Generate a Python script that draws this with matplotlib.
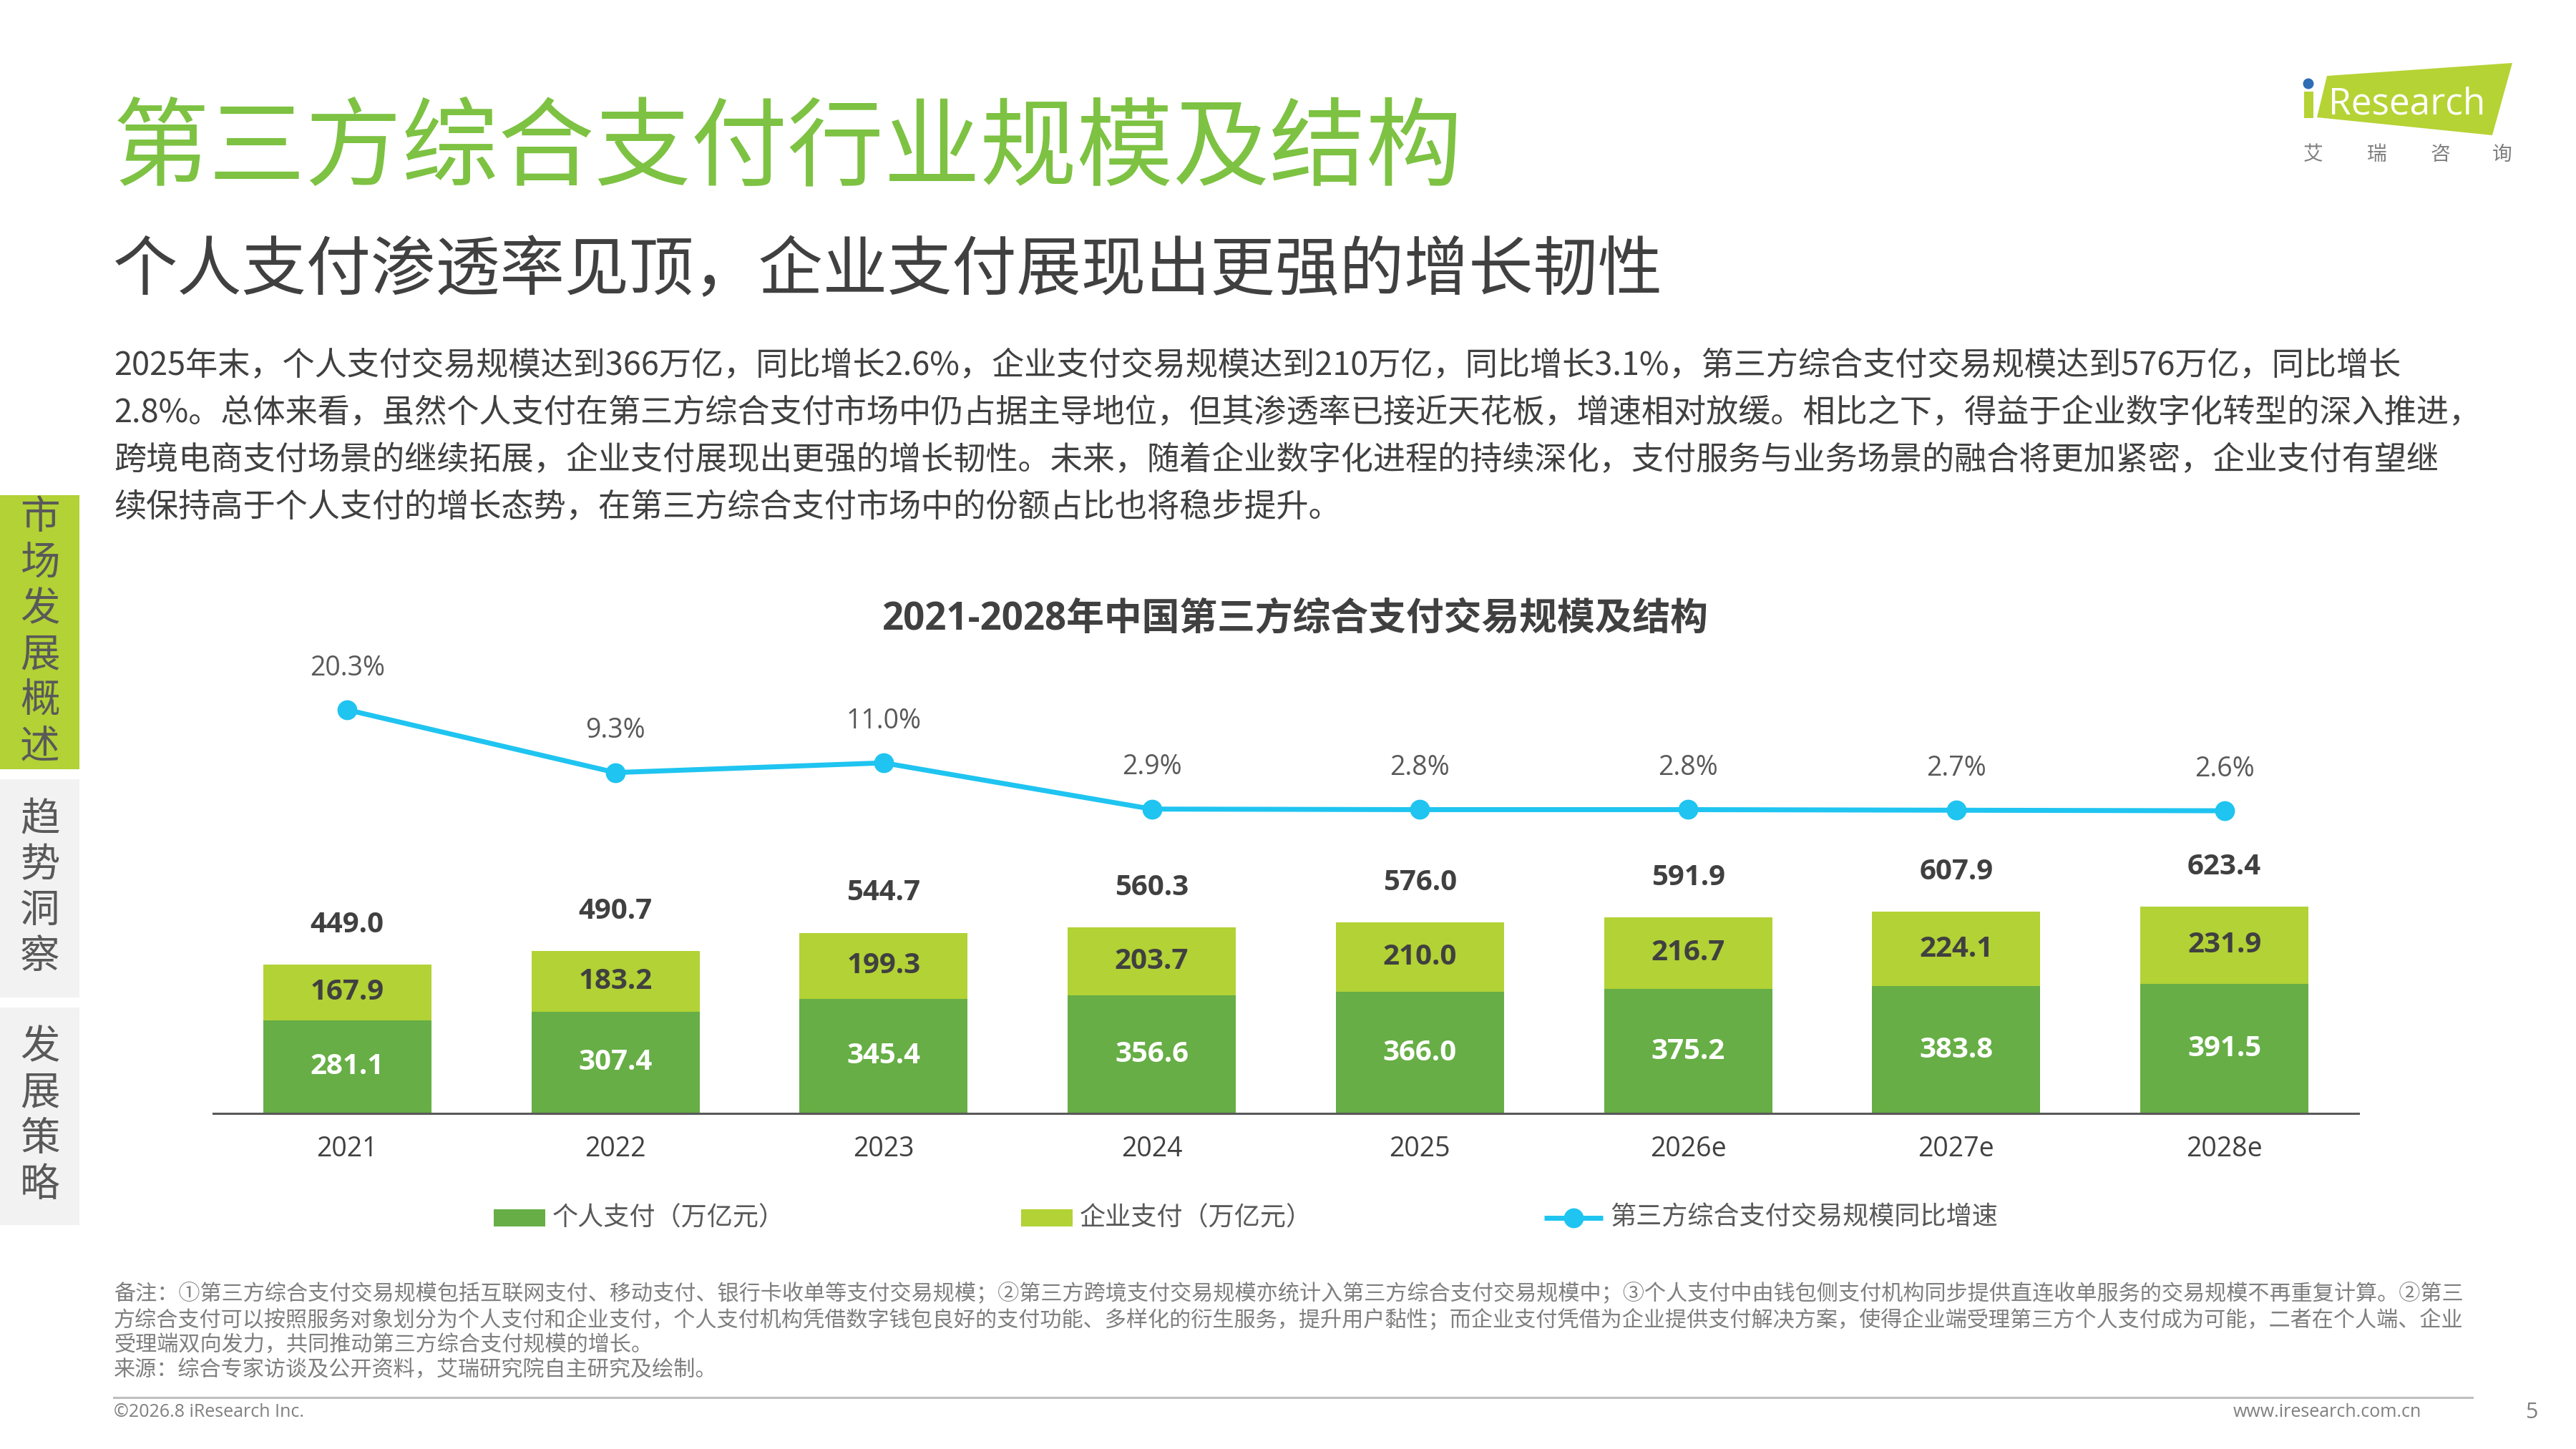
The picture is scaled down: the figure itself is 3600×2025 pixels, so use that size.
import matplotlib

matplotlib.use("Agg")
import matplotlib.pyplot as plt
from matplotlib.patches import Polygon, Rectangle, Circle
from matplotlib.lines import Line2D

plt.rcParams["font.family"] = ["Open Sans", "Noto Sans CJK SC", "DejaVu Sans"]
CJK = ["Noto Sans CJK SC", "DejaVu Sans"]

# ---- data ----
years = ["2021", "2022", "2023", "2024", "2025", "2026e", "2027e", "2028e"]
personal = [281.1, 307.4, 345.4, 356.6, 366.0, 375.2, 383.8, 391.5]
enterprise = [167.9, 183.2, 199.3, 203.7, 210.0, 216.7, 224.1, 231.9]
totals = [449.0, 490.7, 544.7, 560.3, 576.0, 591.9, 607.9, 623.4]
growth = [20.3, 9.3, 11.0, 2.9, 2.8, 2.8, 2.7, 2.6]

title = "第三方综合支付行业规模及结构"
subtitle = "个人支付渗透率见顶，企业支付展现出更强的增长韧性"
body_lines = [
    "2025年末，个人支付交易规模达到366万亿，同比增长2.6%，企业支付交易规模达到210万亿，同比增长3.1%，第三方综合支付交易规模达到576万亿，同比增长",
    "2.8%。总体来看，虽然个人支付在第三方综合支付市场中仍占据主导地位，但其渗透率已接近天花板，增速相对放缓。相比之下，得益于企业数字化转型的深入推进，",
    "跨境电商支付场景的继续拓展，企业支付展现出更强的增长韧性。未来，随着企业数字化进程的持续深化，支付服务与业务场景的融合将更加紧密，企业支付有望继",
    "续保持高于个人支付的增长态势，在第三方综合支付市场中的份额占比也将稳步提升。",
]
chart_title = "2021-2028年中国第三方综合支付交易规模及结构"
legend_labels = ["个人支付（万亿元）", "企业支付（万亿元）", "第三方综合支付交易规模同比增速"]
tabs = ["市场发展概述", "趋势洞察", "发展策略"]
notes = [
    "备注：①第三方综合支付交易规模包括互联网支付、移动支付、银行卡收单等支付交易规模；②第三方跨境支付交易规模亦统计入第三方综合支付交易规模中；③个人支付中由钱包侧支付机构同步提供直连收单服务的交易规模不再重复计算。②第三",
    "方综合支付可以按照服务对象划分为个人支付和企业支付，个人支付机构凭借数字钱包良好的支付功能、多样化的衍生服务，提升用户黏性；而企业支付凭借为企业提供支付解决方案，使得企业端受理第三方个人支付成为可能，二者在个人端、企业",
    "受理端双向发力，共同推动第三方综合支付规模的增长。",
    "来源：综合专家访谈及公开资料，艾瑞研究院自主研究及绘制。",
]

GREEN = "#66AE45"
LIME = "#B2D235"
CYAN = "#1FC4F0"
DARK = "#404040"
GRAY = "#595959"
W, H = 3600, 2025

fig = plt.figure(figsize=(36, 20.25), dpi=100)
fig.patch.set_facecolor("white")

# page layer in pixel coordinates
bg = fig.add_axes([0, 0, 1, 1])
bg.set_xlim(0, W)
bg.set_ylim(H, 0)
bg.axis("off")

bg.text(158, 210, title, fontsize=97, color="#7DC242", family=CJK, va="center", ha="left")
bg.text(158, 380, subtitle, fontsize=65, color=DARK, family=CJK, va="center", ha="left")
for i, line in enumerate(body_lines):
    bg.text(159, 511 + i * 66, line, fontsize=32.5, color=DARK, family=CJK, va="center", ha="left")

# side tabs
tab_spans = [(692, 1075), (1089, 1394), (1408, 1712)]
for k, (label, (y0, y1)) in enumerate(zip(tabs, tab_spans)):
    bg.add_patch(Rectangle((0, y0), 111, y1 - y0, facecolor=LIME if k == 0 else "#F2F2F2",
                           edgecolor="none"))
    n = len(label)
    step = 64
    start = (y0 + y1) / 2 - step * (n - 1) / 2
    for j, ch in enumerate(label):
        bg.text(56, start + j * step, ch, fontsize=40, color=GRAY, family=CJK,
                ha="center", va="center")

# logo
bg.add_patch(Polygon([(3252, 106), (3511, 88), (3483, 189), (3238, 164)], closed=True,
                     facecolor="#B5D334", edgecolor="none"))
bg.add_patch(Rectangle((3220, 128), 13, 37, facecolor="#B5D334", edgecolor="none"))
bg.add_patch(Circle((3226, 117), 7.5, facecolor="#2F6DB5", edgecolor="none"))
bg.text(3254, 160, "Research", fontsize=37, color="white", ha="left", va="baseline")
for cx, ch in zip([3233, 3322, 3410, 3497], "艾瑞咨询"):
    bg.text(cx, 216, ch, fontsize=20, color="#7F7F7F", family=CJK, ha="center", va="center")

# chart title
bg.text(1810, 866, chart_title, fontsize=38, fontweight="bold", color=DARK,
        family=["Open Sans", "Noto Sans CJK SC"], ha="center", va="center")

# legend
leg_y = 1702
bg.add_patch(Rectangle((690, leg_y - 12), 72, 24, facecolor=GREEN, edgecolor="none"))
bg.add_patch(Rectangle((1427, leg_y - 12), 72, 24, facecolor=LIME, edgecolor="none"))
bg.add_line(Line2D([2158, 2240], [leg_y, leg_y], color=CYAN, lw=5, solid_capstyle="butt"))
bg.add_line(Line2D([2199], [leg_y], color=CYAN, marker="o", markersize=19, lw=0))
for x, lab in zip([772, 1509, 2250], legend_labels):
    bg.text(x, leg_y, lab, fontsize=26, color=GRAY, family=CJK, ha="left", va="center")

# notes and footer
for i, line in enumerate(notes):
    bg.text(159, 1809 + i * 35.5, line, fontsize=21.7, color="#7F7F7F", family=CJK,
            ha="left", va="center")
bg.add_line(Line2D([159, 3455], [1953, 1953], color="#BFBFBF", lw=2.2))
bg.text(159, 1974, "©2026.8 iResearch Inc.", fontsize=18, color="#7F7F7F", ha="left", va="center")
bg.text(3384, 1974, "www.iresearch.com.cn", fontsize=18, color="#7F7F7F", ha="right", va="center")
bg.text(3538, 1974, "5", fontsize=22, color="#7F7F7F", ha="center", va="center")

# ---- chart ----
ax_left, ax_right, ax_top, ax_bot = 298, 3296, 940, 1556
ax = fig.add_axes([ax_left / W, 1 - ax_bot / H, (ax_right - ax_left) / W, (ax_bot - ax_top) / H])
ax.patch.set_alpha(0)
x = list(range(len(years)))
px_per_unit = 0.4635
ax.set_ylim(0, (ax_bot - ax_top) / px_per_unit)
ax.set_xlim(-0.5, 7.5)

ax.bar(x, personal, width=0.627, color=GREEN, zorder=2)
ax.bar(x, enterprise, bottom=personal, width=0.627, color=LIME, zorder=2)

for xi, p, e, t in zip(x, personal, enterprise, totals):
    ax.text(xi, p / 2, f"{p:.1f}", ha="center", va="center", fontsize=29,
            fontweight="bold", color="white")
    ax.text(xi, p + e / 2, f"{e:.1f}", ha="center", va="center", fontsize=29,
            fontweight="bold", color=DARK)
    ax.annotate(f"{t:.1f}", (xi, p + e), xytext=(0, 40), textcoords="offset points",
                ha="center", va="center", fontsize=29, fontweight="bold", color=DARK)

for s in ["top", "right", "left"]:
    ax.spines[s].set_visible(False)
ax.spines["bottom"].set_color(GRAY)
ax.spines["bottom"].set_linewidth(2.2)
ax.set_yticks([])
ax.set_xticks(x)
ax.set_xticklabels(years, fontsize=27, color=DARK)
ax.tick_params(axis="x", length=0, pad=22)

ax2 = ax.twinx()
pct_px = 7.97
top_val = 20.3 + (992 - ax_top) / pct_px
bot_val = 20.3 - (ax_bot - 992) / pct_px
ax2.set_ylim(bot_val, top_val)
ax2.plot(x, growth, color=CYAN, lw=5, marker="o", markersize=19, zorder=3)
for xi, g in zip(x, growth):
    ax2.annotate(f"{g:.1f}%", (xi, g), xytext=(0, 42), textcoords="offset points",
                 ha="center", va="center", fontsize=27, color=GRAY)
ax2.set_yticks([])
for s in ax2.spines.values():
    s.set_visible(False)

fig.savefig("out.png", dpi=100, facecolor="white")
